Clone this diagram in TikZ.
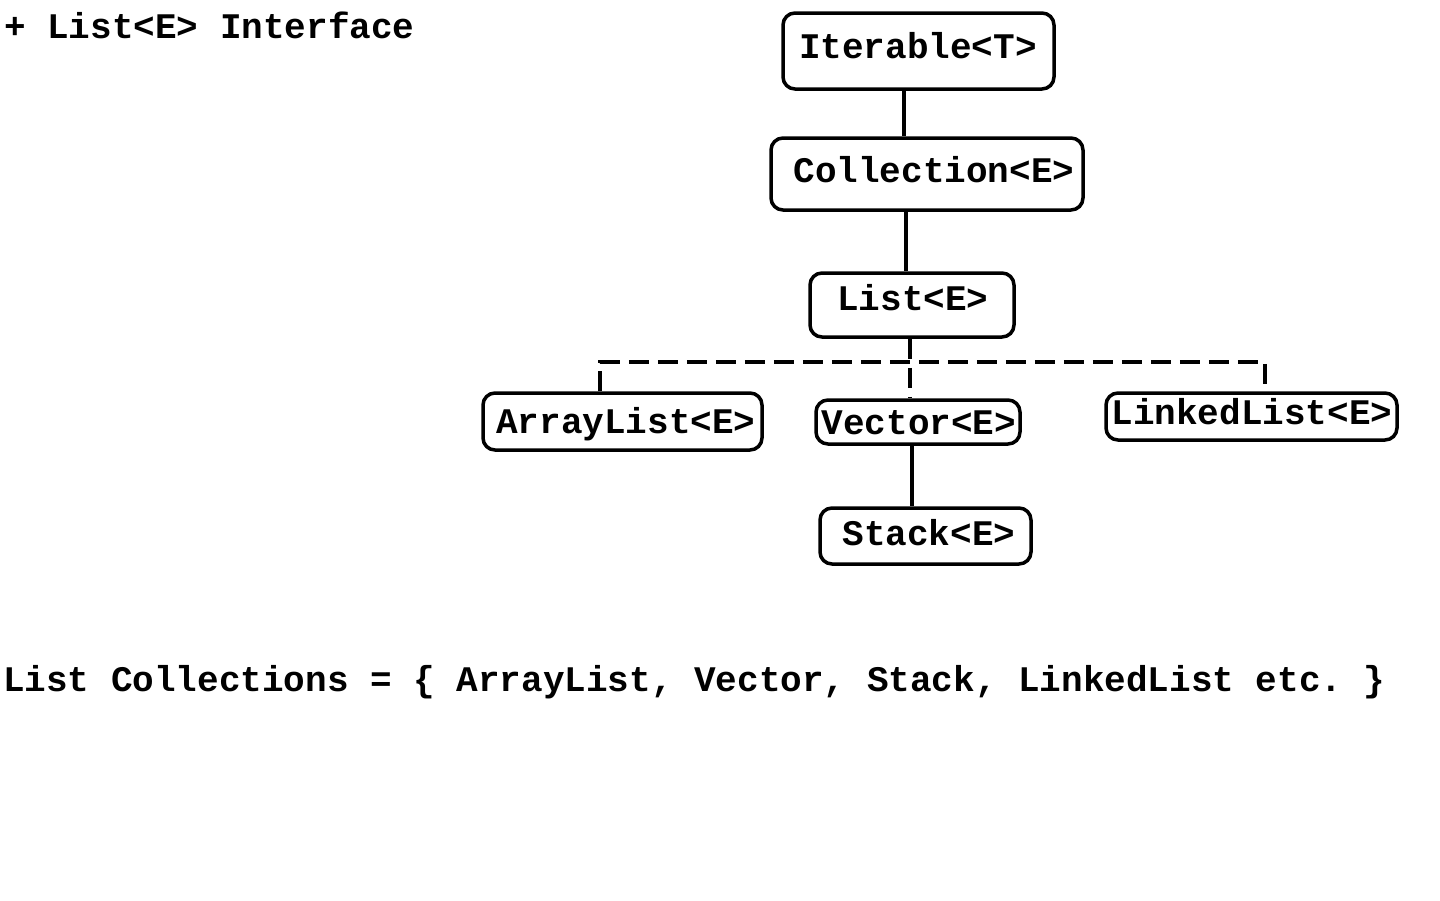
\documentclass[tikz,border=0pt]{standalone}
\usepackage{fontspec}
\setmainfont{Liberation Mono}
\begin{document}
\frenchspacing
\begin{tikzpicture}[x=1pt,y=-1pt,
  txt/.style={font=\fontsize{36}{40}\selectfont\bfseries, inner sep=0pt, text height=23.7pt, text depth=0pt},
  box/.style={draw, line width=3.5pt, rounded corners=12pt, inner sep=0pt},
  link/.style={line width=3.5pt},
  dlink/.style={line width=3.5pt, dash pattern=on 20pt off 9pt}]
\useasboundingbox[fill=white] (0,0) rectangle (1440,900);
\node[txt, anchor=west] (title) at (4,27) {+ List<E> Interface};
\node[box, minimum width=271pt, minimum height=76pt] (itb) at (918.5,51) {};
\node[box, minimum width=312pt, minimum height=72pt] (collb) at (927,174) {};
\node[box, minimum width=204pt, minimum height=64pt] (listb) at (912,305) {};
\node[box, minimum width=279pt, minimum height=57pt] (alb) at (622.5,421.5) {};
\node[box, minimum width=204pt, minimum height=44pt] (vecb) at (918,422) {};
\node[box, minimum width=291pt, minimum height=47pt] (llb) at (1251.5,416.5) {};
\node[box, minimum width=211pt, minimum height=56pt] (stb) at (925.5,536) {};
\node[txt] (it) at (918,47) {Iterable<T>};
\node[txt] (coll) at (934,171) {Collection<E>};
\node[txt] (list) at (913,299) {List<E>};
\node[txt] (al) at (626,422) {ArrayList<E>};
\node[txt] (vec) at (919,423) {Vector<E>};
\node[txt] (ll) at (1252,413) {LinkedList<E>};
\node[txt] (st) at (929,534) {Stack<E>};
\node[txt, anchor=west] (summary) at (3,680) {List Collections = \{ ArrayList, Vector, Stack, LinkedList etc. \}};
\coordinate (c1) at (904,110);
\coordinate (c2) at (906,240);
\coordinate (jc) at (910,362);
\coordinate (jL) at (600,362);
\coordinate (jR) at (1265,362);
\coordinate (c3) at (912,475);
\draw[link] (itb.south -| c1) -- (collb.north -| c1);
\draw[link] (collb.south -| c2) -- (listb.north -| c2);
\draw[dlink] (listb.south -| jc) -- (vecb.north -| jc);
\draw[dlink] (alb.north -| jL) -- (jL) -- (jR) -- (llb.north -| jR);
\draw[link] (vecb.south -| c3) -- (stb.north -| c3);
\end{tikzpicture}
\end{document}
